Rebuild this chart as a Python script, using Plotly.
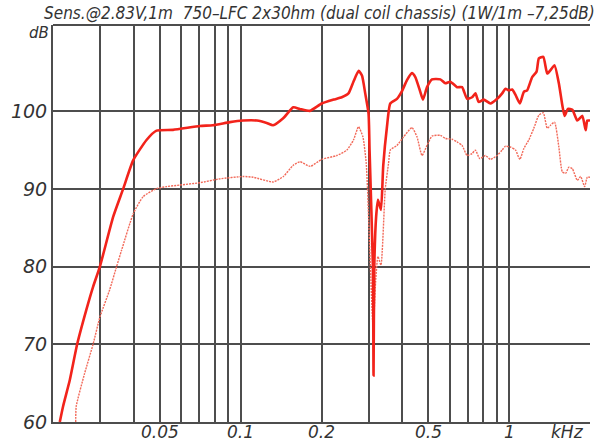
import math
import plotly.graph_objects as go

# ---- data ----
freq_2v83 = [0.0212, 0.0218, 0.0231, 0.0246, 0.0266, 0.0282, 0.0299, 0.0335, 0.0365, 0.0398,
             0.0446, 0.0486, 0.056, 0.0705, 0.0788, 0.0912, 0.102, 0.115, 0.125, 0.132,
             0.144, 0.157, 0.166, 0.181, 0.2005, 0.222, 0.238, 0.252, 0.263, 0.275,
             0.283, 0.291, 0.2994, 0.302, 0.3108, 0.3125, 0.3145, 0.3195, 0.3245, 0.333,
             0.3396, 0.3506, 0.3607, 0.382, 0.3988, 0.4163, 0.4345, 0.4471, 0.4667, 0.4776,
             0.4943, 0.516, 0.5542, 0.5785, 0.6039, 0.6397, 0.6677, 0.697, 0.7276, 0.7486,
             0.7701, 0.8039, 0.8516, 0.9021, 0.9417, 0.9687, 0.9966, 1.026, 1.056, 1.096,
             1.134, 1.167, 1.218, 1.265, 1.290, 1.340, 1.386, 1.426, 1.476, 1.531,
             1.577, 1.608, 1.655, 1.719, 1.794, 1.873, 1.927, 1.954, 2.0]
spl_2v83 = [60.0, 62.0, 65.4, 70.0, 74.4, 77.4, 80.0, 86.4, 90.0, 93.7,
            96.3, 97.5, 97.6, 98.1, 98.2, 98.6, 98.8, 98.8, 98.5, 98.2,
            99.1, 100.5, 100.3, 100.05, 101.0, 101.5, 101.8, 102.3, 103.8, 105.2,
            104.6, 102.3, 99.7, 95.0, 80.0, 66.0, 80.0, 86.4, 88.6, 87.3,
            93.0, 98.0, 101.0, 101.6, 102.6, 104.0, 104.9, 104.4, 102.5, 101.5,
            103.1, 104.1, 104.1, 103.6, 103.8, 103.1, 103.1, 101.6, 101.8, 102.3,
            101.2, 101.5, 101.0, 101.6, 102.3, 102.9, 102.7, 102.8, 102.1, 101.0,
            102.5, 102.7, 104.4, 105.1, 106.8, 107.0, 104.85, 105.3, 105.9, 103.6,
            100.8, 99.4, 100.3, 100.2, 98.8, 99.4, 97.55, 98.8, 98.8]

freq_1w = [0.0243, 0.0244, 0.0262, 0.0282, 0.0299, 0.0325, 0.0345, 0.0360, 0.0398, 0.0433,
           0.0486, 0.0530, 0.0594, 0.0705, 0.0837, 0.1023, 0.1114, 0.1323, 0.1442, 0.157,
           0.1664, 0.1814, 0.2005, 0.2281, 0.2486, 0.2631, 0.2747, 0.2853, 0.2935, 0.2968,
           0.3115, 0.3180, 0.3245, 0.333, 0.3455, 0.3554, 0.3607, 0.382, 0.4044, 0.4345,
           0.4537, 0.4736, 0.4943, 0.516, 0.5542, 0.5785, 0.6127, 0.6397, 0.6677, 0.697,
           0.7276, 0.7486, 0.7767, 0.8158, 0.8516, 0.9021, 0.9417, 0.9687, 1.011, 1.056,
           1.096, 1.134, 1.183, 1.235, 1.290, 1.340, 1.386, 1.426, 1.476, 1.531,
           1.577, 1.622, 1.669, 1.719, 1.794, 1.845, 1.910, 1.954, 2.0]
spl_1w = [60.0, 62.0, 66.2, 70.0, 73.5, 77.0, 80.0, 82.1, 86.8, 89.0,
          90.05, 90.3, 90.5, 90.8, 91.3, 91.6, 91.5, 90.9, 91.6, 93.05,
          93.5, 92.9, 93.8, 94.3, 95.0, 96.3, 98.0, 96.7, 93.3, 90.0,
          72.0, 78.0, 81.3, 80.2, 90.0, 93.3, 95.0, 95.6, 96.7, 97.9,
          96.7, 94.3, 95.6, 96.8, 96.9, 96.5, 96.4, 96.05, 95.6, 94.3,
          94.55, 95.0, 93.9, 94.3, 93.8, 94.3, 95.0, 95.5, 95.4, 95.0,
          93.8, 95.2, 96.3, 97.8, 99.5, 99.8, 97.8, 98.2, 98.6, 95.4,
          92.2, 92.0, 92.8, 92.6, 91.1, 91.6, 90.3, 91.5, 91.5]

x_grid = [0.03, 0.04, 0.05, 0.06, 0.07, 0.08, 0.09, 0.1, 0.2, 0.3, 0.4, 0.5,
          0.6, 0.7, 0.8, 0.9, 1.0]
x_label_vals = [0.05, 0.1, 0.2, 0.5, 1.0]
x_label_text = ["0.05", "0.1", "0.2", "0.5", "1"]
y_ticks = [60, 70, 80, 90, 100]
y_labels = ["60", "70", "80", "90", "100"]
title_text = "Sens.@2.83V,1m  750\u2013LFC 2x30hm (dual coil chassis) (1W/1m \u20137,25dB)"

GRID = "#4d4d4d"
TXT = "#333333"
RED = "#f2231b"
LABEL_FONT = dict(family="DejaVu Sans", size=17, color=TXT, style="italic")

fig = go.Figure()
fig.add_trace(go.Scatter(x=freq_1w, y=spl_1w, mode="lines",
                         line=dict(color="#f26a5a", width=1.4, dash="2px,1px", shape="spline", smoothing=0.5),
                         showlegend=False, hoverinfo="skip"))
fig.add_trace(go.Scatter(x=freq_2v83, y=spl_2v83, mode="lines",
                         line=dict(color=RED, width=2.6, shape="spline", smoothing=0.5),
                         showlegend=False, hoverinfo="skip"))

fig.update_layout(
    width=600, height=443,
    margin=dict(l=53, r=10, t=25, b=21, autoexpand=False),
    paper_bgcolor="white", plot_bgcolor="white",
    xaxis=dict(type="log", range=[math.log10(0.02), math.log10(2.0)], automargin=False,
               tickvals=x_grid, showticklabels=False,
               showgrid=True, gridcolor=GRID, gridwidth=1.6,
               showline=True, linecolor=GRID, linewidth=2,
               ticks="", zeroline=False),
    yaxis=dict(range=[60, 111.1], tickvals=y_ticks, ticktext=y_labels, automargin=False,
               showgrid=True, gridcolor=GRID, gridwidth=1.6,
               showline=True, linecolor=GRID, linewidth=2,
               ticks="", zeroline=False,
               tickfont=dict(family="DejaVu Sans", size=19, color=TXT, style="italic")),
)

# x tick labels (kept inside the picture); annotation x on a log axis is given in log10 units
for v, t in zip(x_label_vals, x_label_text):
    fig.add_annotation(text=t, x=math.log10(v), xref="x", y=0, yref="paper",
                       xanchor="center", yanchor="bottom", yshift=-21, borderpad=0,
                       showarrow=False, font=LABEL_FONT)

# top border of the frame
fig.add_shape(type="line", xref="paper", yref="paper", x0=0, x1=1.0, y0=1, y1=1,
              line=dict(color=GRID, width=2))

fig.add_annotation(text=title_text, xref="paper", yref="paper", x=0.497, y=1,
                   xanchor="center", yanchor="bottom", yshift=0, showarrow=False,
                   font=dict(family="Liberation Sans Narrow, DejaVu Sans Condensed, Arial Narrow",
                             size=17, color=TXT, style="italic"))
fig.add_annotation(text="dB", xref="paper", yref="paper", x=0, y=1,
                   xanchor="right", yanchor="top", xshift=-2, yshift=3, showarrow=False,
                   font=dict(family="DejaVu Sans", size=15, color=TXT, style="italic"))
fig.add_annotation(text="kHz", xref="paper", yref="paper", x=0.99, y=0,
                   xanchor="right", yanchor="bottom", yshift=-21, borderpad=0, showarrow=False,
                   font=LABEL_FONT)

fig.write_html("out.html")
